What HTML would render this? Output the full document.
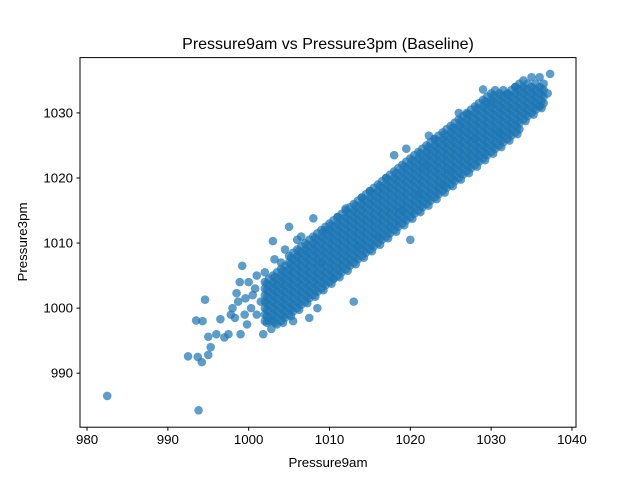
<!DOCTYPE html>
<html><head><meta charset="utf-8"><style>
body{margin:0;background:#fff;}
svg{display:block;font-family:"Liberation Sans","DejaVu Sans",sans-serif;}
</style></head><body>
<svg id="chart" width="640" height="480" viewBox="0 0 640 480">
<rect width="640" height="480" fill="#fff"/>
<text x="328" y="49" font-size="16" text-anchor="middle">Pressure9am vs Pressure3pm (Baseline)</text>
<g id="points"></g>
<rect x="80" y="57.6" width="496" height="369.6" fill="none" stroke="#000" stroke-width="1"/>
<g id="xticks"></g>
<g id="yticks"></g>
<text x="328" y="467" font-size="13.3" text-anchor="middle">Pressure9am</text>
<text x="27" y="242" font-size="13.3" text-anchor="middle" transform="rotate(-90 27 242)">Pressure3pm</text>
</svg>
<script>
const xTicks=[980,990,1000,1010,1020,1030,1040];
const yTicks=[990,1000,1010,1020,1030];
const outlierX=[982.5,993.8,992.5,993.7,994.2,993.5,994.3,994.6,995,995.3,995,996,996.5,997,997.5,997.8,998,998.5,998.7,999,999.5,999.2,1000,1000.5,1001,1001.5,1001.8,1002,1001,1003,1004,1005,1006,1008,1008.5,1009,1013,1009.5,1012,1014,1017,1018,1019,1020,1021,1022,1022.3,1025,1027,1028,1029,1030,1031,1032,1033,1034,1035,1036,1037.3,1037,1036,1000.3,999.8,998.3,1003.5,1002.5,1004.5,1006.5,1007.5,1011,1015,1016,1024,1026,1019.5,1023,1000.8,999.6,998.9,1003.2,1002.8,1005.5,1010.5,1013.5];
const outlierY=[986.5,984.3,992.6,992.5,991.7,998.1,998,1001.3,992.8,994,995.6,996,998.3,995.5,996,999,1000,1002.3,1001,996,999,1006.5,1004,1002,999,1001,996,1005.5,1005,1010.3,1007,1012.5,1010.5,1013.8,1000,1007,1001,1012,1015.3,1017,1020,1023.5,1015,1010.5,1017.5,1021.8,1026.5,1021,1029.8,1026,1033.6,1031.5,1027,1032.8,1034,1035,1035.5,1035.5,1036,1033,1031,1000,997.5,998.5,997.5,998,1009,1011,998.5,1014,1018,1011,1019,1030,1024.5,1026,1003,1001.5,1004,1007.5,996.8,998,1004.5,1009.5];
const coreX=[1002,1003,1004,1005,1006,1007,1008,1009,1010,1011,1012,1013,1014,1015,1016,1017,1018,1019,1020,1021,1022,1023,1024,1025,1026,1027,1028,1029,1030,1031,1032,1033,1034,1035,1036];
const coreY=[
[998,999,1000,1001,1002,1003,1004],
[998,999,1000,1001,1002,1003,1004,1005],
[998,999,1000,1001,1002,1003,1004,1005,1006],
[999,1000,1001,1002,1003,1004,1005,1006,1007,1008],
[1000,1001,1002,1003,1004,1005,1006,1007,1008,1009],
[1001,1002,1003,1004,1005,1006,1007,1008,1009,1010],
[1002,1003,1004,1005,1006,1007,1008,1009,1010,1011],
[1003,1004,1005,1006,1007,1008,1009,1010,1011,1012],
[1004,1005,1006,1007,1008,1009,1010,1011,1012,1013],
[1005,1006,1007,1008,1009,1010,1011,1012,1013,1014],
[1006,1007,1008,1009,1010,1011,1012,1013,1014,1015],
[1007,1008,1009,1010,1011,1012,1013,1014,1015,1016],
[1008,1009,1010,1011,1012,1013,1014,1015,1016,1017],
[1009,1010,1011,1012,1013,1014,1015,1016,1017,1018],
[1010,1011,1012,1013,1014,1015,1016,1017,1018,1019],
[1011,1012,1013,1014,1015,1016,1017,1018,1019,1020],
[1012,1013,1014,1015,1016,1017,1018,1019,1020,1021],
[1013,1014,1015,1016,1017,1018,1019,1020,1021,1022],
[1014,1015,1016,1017,1018,1019,1020,1021,1022,1023],
[1015,1016,1017,1018,1019,1020,1021,1022,1023,1024],
[1016,1017,1018,1019,1020,1021,1022,1023,1024,1025],
[1017,1018,1019,1020,1021,1022,1023,1024,1025,1026],
[1018,1019,1020,1021,1022,1023,1024,1025,1026,1027],
[1019,1020,1021,1022,1023,1024,1025,1026,1027,1028],
[1020,1021,1022,1023,1024,1025,1026,1027,1028,1029],
[1021,1022,1023,1024,1025,1026,1027,1028,1029,1030],
[1022,1023,1024,1025,1026,1027,1028,1029,1030,1031],
[1023,1024,1025,1026,1027,1028,1029,1030,1031,1032],
[1024,1025,1026,1027,1028,1029,1030,1031,1032,1033],
[1025,1026,1027,1028,1029,1030,1031,1032,1033],
[1026,1027,1028,1029,1030,1031,1032,1033],
[1027,1028,1029,1030,1031,1032,1033,1034],
[1029,1030,1031,1032,1033,1034],
[1030,1031,1032,1033,1034],
[1031,1032,1033,1034]];

const NS="http://www.w3.org/2000/svg";
const X0=80,X1=576,Y0=427.2,Y1=57.6,xmin=979.13,xmax=1040.5,ymin=981.7,ymax=1038.5;
function sx(v){return X0+(v-xmin)/(xmax-xmin)*(X1-X0);}
function sy(v){return Y0-(v-ymin)/(ymax-ymin)*(Y0-Y1);}
const pts=document.getElementById('points');
function dot(x,y){
  const c=document.createElementNS(NS,'circle');
  c.setAttribute('cx',sx(x));c.setAttribute('cy',sy(y));c.setAttribute('r',4.3);
  c.setAttribute('fill','#1f77b4');c.setAttribute('fill-opacity','0.72');
  
  
  pts.appendChild(c);
}
for(let i=0;i<coreX.length;i++){for(const y of coreY[i]){dot(coreX[i],y);dot(coreX[i]+0.5,y+0.5);dot(coreX[i]+0.25,y-0.25);}}
for(let i=0;i<outlierX.length;i++)dot(outlierX[i],outlierY[i]);
const xg=document.getElementById('xticks');
for(const t of xTicks){
  const l=document.createElementNS(NS,'line');
  l.setAttribute('x1',sx(t));l.setAttribute('x2',sx(t));l.setAttribute('y1',Y0);l.setAttribute('y2',Y0+3.5);l.setAttribute('stroke','#000');
  
  
  xg.appendChild(l);
  const tx=document.createElementNS(NS,'text');
  tx.setAttribute('x',sx(t));tx.setAttribute('y',Y0+17);tx.setAttribute('font-size','13.3');tx.setAttribute('text-anchor','middle');
  tx.textContent=t;
  
  
  xg.appendChild(tx);
}
const yg=document.getElementById('yticks');
for(const t of yTicks){
  const l=document.createElementNS(NS,'line');
  l.setAttribute('x1',X0-3.5);l.setAttribute('x2',X0);l.setAttribute('y1',sy(t));l.setAttribute('y2',sy(t));l.setAttribute('stroke','#000');
  
  
  yg.appendChild(l);
  const tx=document.createElementNS(NS,'text');
  tx.setAttribute('x',X0-7);tx.setAttribute('y',sy(t)+4.5);tx.setAttribute('font-size','13.3');tx.setAttribute('text-anchor','end');
  tx.textContent=t;
  
  
  yg.appendChild(tx);
}
</script>
</body></html>
